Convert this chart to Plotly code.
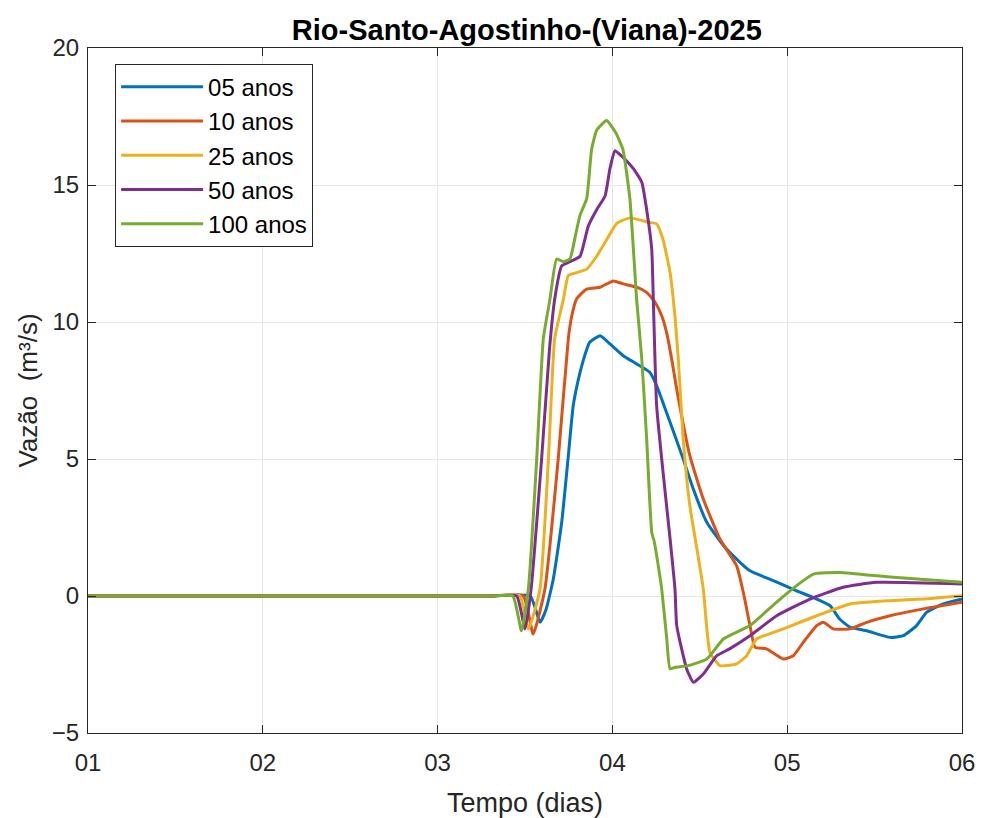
import plotly.graph_objects as go

# eixo x em dias, eixo y em vazao (m3/s)
dias_05 = [1, 2, 3, 3.3, 3.53, 3.586, 3.62, 3.662, 3.71, 3.748, 3.776, 3.815, 3.853, 3.87, 3.93, 3.986, 4.062,
           4.139, 4.215, 4.253, 4.33, 4.405, 4.463, 4.54, 4.635, 4.73, 4.787, 4.92, 5.054, 5.169,
           5.245, 5.30, 5.36, 5.455, 5.588, 5.664, 5.74, 5.797, 5.893, 6.0]
vazao_05 = [0, 0, 0, 0, 0, -0.96, -0.5, 0.62, 2.69, 5.12, 6.95, 8.16, 9.0, 9.26, 9.5, 9.2, 8.77,
            8.47, 8.16, 7.68, 6.34, 5.0, 3.9, 2.69, 1.84, 1.23, 0.92, 0.56, 0.19, -0.11,
            -0.35, -0.84, -1.14, -1.27, -1.51, -1.45, -1.08, -0.6, -0.29, -0.11]

dias_10 = [1, 2, 3, 3.3, 3.49, 3.547, 3.614, 3.69, 3.748, 3.767, 3.795, 3.853, 3.93, 4.005, 4.062, 4.139,
           4.196, 4.244, 4.282, 4.31, 4.339, 4.368, 4.443, 4.52, 4.615, 4.711, 4.749, 4.787,
           4.816, 4.882, 4.978, 5.035, 5.092, 5.169, 5.207, 5.264, 5.36, 5.455, 5.588, 5.78, 6.0]
vazao_10 = [0, 0, 0, 0, 0, -1.39, 0.26, 5.0, 9.4, 10.2, 10.84, 11.2, 11.27, 11.5, 11.39, 11.27,
            11.08, 10.72, 10.23, 9.62, 8.65, 7.55, 5.12, 3.54, 2.08, 1.1, 0.13, -1.08,
            -1.87, -1.93, -2.3, -2.18, -1.69, -1.08, -0.96, -1.2, -1.2, -0.96, -0.72, -0.47, -0.23]

dias_25 = [1, 2, 3, 3.3, 3.47, 3.52, 3.586, 3.634, 3.67, 3.72, 3.748, 3.795, 3.853, 3.91, 3.967, 4.025,
           4.10, 4.20, 4.253, 4.29, 4.33, 4.358, 4.377, 4.405, 4.443, 4.49, 4.52, 4.558, 4.615,
           4.71, 4.768, 4.825, 4.978, 5.169, 5.36, 5.588, 5.78, 6.0]
vazao_25 = [0, 0, 0, 0, 0, -1.2, 0.26, 5.0, 9.4, 10.84, 11.7, 11.8, 11.93, 12.4, 13.0, 13.6,
            13.8, 13.65, 13.58, 13.0, 11.8, 10.2, 8.65, 5.73, 3.3, 1.47, 0.26, -2.05, -2.54,
            -2.48, -2.18, -1.57, -1.2, -0.72, -0.29, -0.17, -0.11, 0.01]

dias_50 = [1, 2, 3, 3.3, 3.452, 3.50, 3.535, 3.595, 3.64, 3.67, 3.71, 3.757, 3.815, 3.862, 3.91, 3.958,
           3.986, 4.015, 4.062, 4.12, 4.168, 4.196, 4.225, 4.234, 4.253, 4.29, 4.33, 4.358,
           4.368, 4.425, 4.463, 4.52, 4.597, 4.67, 4.787, 4.94, 5.13, 5.32, 5.51, 6.0]
vazao_50 = [0, 0, 0, 0, 0, -1.2, 0.26, 5.0, 9.0, 10.84, 12.05, 12.2, 12.4, 13.5, 14.1, 14.6,
            15.6, 16.25, 16.0, 15.6, 15.1, 14.1, 12.66, 10.84, 6.95, 4.51, 2.08, 0.26,
            -1.08, -2.66, -3.15, -2.85, -2.18, -1.93, -1.45, -0.72, -0.11, 0.32, 0.5, 0.44]

dias_100 = [1, 2, 3, 3.3, 3.43, 3.48, 3.52, 3.567, 3.605, 3.643, 3.681, 3.72, 3.757, 3.79, 3.815, 3.853,
            3.881, 3.91, 3.967, 4.02, 4.06, 4.10, 4.139, 4.168, 4.196, 4.225, 4.24, 4.26,
            4.282, 4.31, 4.33, 4.36, 4.43, 4.54, 4.635, 4.787, 4.94, 5.054, 5.15, 5.30, 5.588, 6.0]
vazao_100 = [0, 0, 0, 0, 0, -1.27, 0.3, 5.0, 9.4, 10.84, 12.3, 12.2, 12.3, 13.2, 13.9, 14.5,
             16.3, 17.0, 17.35, 16.9, 16.3, 14.5, 10.8, 8.65, 5.73, 2.33, 1.97, 1.2,
             0.26, -1.5, -2.66, -2.6, -2.55, -2.3, -1.57, -1.08, -0.22, 0.38, 0.8, 0.86, 0.69, 0.5]

nomes = ['05 anos', '10 anos', '25 anos', '50 anos', '100 anos']
cores = ['#0072BD', '#D95319', '#EDB120', '#7E2F8E', '#77AC30']
series = [(dias_05, vazao_05), (dias_10, vazao_10), (dias_25, vazao_25),
          (dias_50, vazao_50), (dias_100, vazao_100)]

tick_dias = [1, 2, 3, 4, 5, 6]
tick_texto = ['01', '02', '03', '04', '05', '06']

fig = go.Figure()
for (x, y), nome, cor in zip(series, nomes, cores):
    fig.add_trace(go.Scatter(x=x, y=y, name=nome, mode='lines',
                             line=dict(color=cor, width=3, shape='spline', smoothing=0.45)))

eixo = dict(showline=True, linecolor='#262626', linewidth=1, mirror='ticks',
            ticks='inside', ticklen=8, tickcolor='#262626', automargin=False,
            showgrid=True, gridcolor='#e6e6e6', gridwidth=1, zeroline=False,
            tickfont=dict(family='Liberation Sans, Arial', size=24, color='#262626'))

fig.update_layout(
    width=981, height=818,
    margin=dict(l=88, r=19, t=48, b=85),
    paper_bgcolor='white', plot_bgcolor='white',
    title=dict(text='<b>Rio-Santo-Agostinho-(Viana)-2025</b>', x=0.537, xanchor='center',
               y=0.963, yanchor='middle',
               font=dict(family='Liberation Sans, Arial', size=29, color='#000000')),
    xaxis=dict(eixo, range=[1, 6], tickvals=tick_dias, ticktext=tick_texto, ticklabelstandoff=8,
               title=dict(text='Tempo (dias)', standoff=20,
                          font=dict(family='Liberation Sans, Arial', size=27, color='#262626'))),
    yaxis=dict(eixo, range=[-5, 20], tickvals=[-5, 0, 5, 10, 15, 20], ticklabelstandoff=3,
               title=dict(text='Vazão  (m³/s)', standoff=6,
                          font=dict(family='Liberation Sans, Arial', size=26, color='#262626'))),
    legend=dict(x=0.031, y=0.977, xanchor='left', yanchor='top',
                bordercolor='#262626', borderwidth=1, bgcolor='white',
                itemwidth=82,
                font=dict(family='Liberation Sans, Arial', size=24, color='#000000')),
    showlegend=True,
    hovermode=False,
)

fig.write_html("out.html", config={'displayModeBar': False},
               post_script="document.body.style.margin='0';")
